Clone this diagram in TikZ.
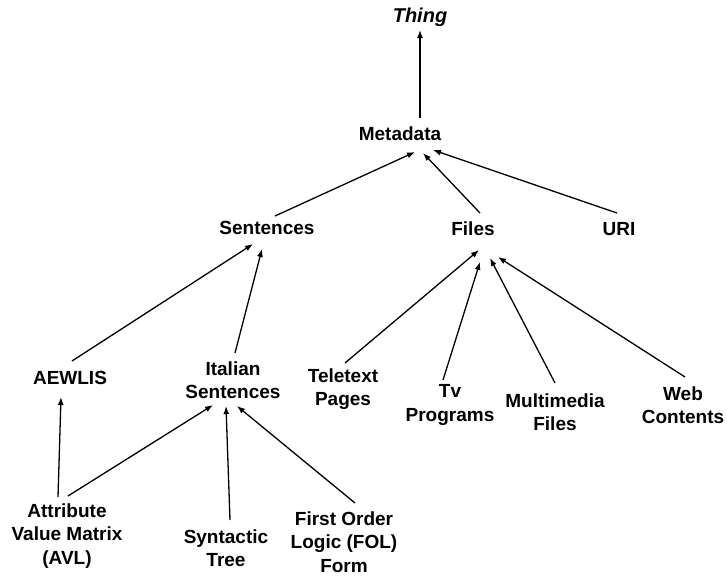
\documentclass[tikz,border=0pt]{standalone}
\usepackage{fontspec}
\setmainfont{Liberation Sans}
\usetikzlibrary{arrows.meta,calc}
\begin{document}
\begin{tikzpicture}[x=1pt,y=-1pt,
  lbl/.style={font=\fontsize{19}{23.5}\selectfont\bfseries, align=center, inner sep=0pt, text=black},
  conn/.style={line width=1.3pt, black, -{Latex[length=8pt,width=6pt]}}]
\useasboundingbox (0,0) rectangle (728,576);
\node[lbl, font=\fontsize{20}{24}\selectfont\bfseries\itshape] (thing) at (420,17) {Thing};
\node[lbl] (meta) at (400,134) {Metadata};
\node[lbl] (sent) at (267,228) {Sentences};
\node[lbl] (files) at (473,229) {Files};
\node[lbl] (uri) at (619,229) {URI};
\node[lbl] (aew) at (70,378) {AEWLIS};
\node[lbl] (ital) at (233,380) {Italian\\Sentences};
\node[lbl] (tele) at (343,389) {Teletext\\Pages};
\node[lbl] (tv) at (450,405) {Tv\\Programs};
\node[lbl] (multi) at (555,412) {Multimedia\\Files};
\node[lbl] (web) at (683,405) {Web\\Contents};
\node[lbl] (avl) at (67,536) {Attribute\\Value Matrix\\(AVL)};
\node[lbl] (synt) at (226,548) {Syntactic\\Tree};
\node[lbl] (fol) at (344,542) {First Order\\Logic (FOL)\\Form};

\draw[conn] ($(meta)+(20,-16)$) -- ($(thing)+(0,13)$);
\draw[conn] ($(sent)+(8,-12)$) -- ($(meta)+(15,18)$);
\draw[conn] ($(files)+(7,-16)$) -- ($(meta)+(23,19)$);
\draw[conn] ($(uri)+(-2,-16)$) -- ($(meta)+(33,16)$);
\draw[conn] ($(aew)+(2,-17)$) -- ($(sent)+(-14,16)$);
\draw[conn] ($(ital)+(2,-27)$) -- ($(sent)+(-5,21)$);
\draw[conn] ($(tele)+(2,-26)$) -- ($(files)+(6,21)$);
\draw[conn] ($(tv)+(-7,-25)$) -- ($(files)+(7,33)$);
\draw[conn] ($(multi)+(0,-29)$) -- ($(files)+(17,29)$);
\draw[conn] ($(web)+(2,-28)$) -- ($(files)+(25,28)$);
\draw[conn] ($(avl)+(-9,-39)$) -- ($(aew)+(-9,19)$);
\draw[conn] ($(avl)+(1,-40)$) -- ($(ital)+(-20,25)$);
\draw[conn] ($(synt)+(4,-28)$) -- ($(ital)+(-7,26)$);
\draw[conn] ($(fol)+(11,-39)$) -- ($(ital)+(4,26)$);
\end{tikzpicture}
\end{document}
